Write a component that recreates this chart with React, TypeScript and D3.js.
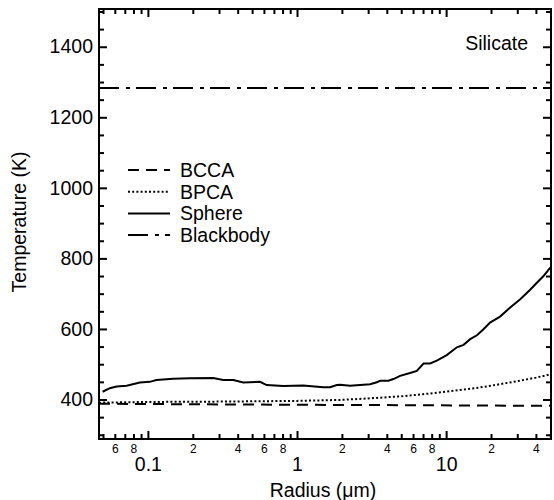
import React, { useEffect, useRef } from 'react';
import * as d3 from 'd3';

// radius in microns, temperature in K
const sphereRadius = [0.0497, 0.0556, 0.0617, 0.072, 0.0884, 0.103, 0.114, 0.148, 0.191, 0.274, 0.32, 0.374, 0.436, 0.565, 0.626, 0.809, 1.1, 1.5, 1.665, 1.85, 1.944, 2.269, 3.09, 3.43, 3.61, 4.1, 4.43, 4.91, 5.73, 6.36, 7.05, 7.81, 8.66, 10.1, 11.8, 13.1, 14.5, 16.1, 17.8, 19.7, 23.0, 26.9, 31.4, 36.6, 40.6, 45.0, 49.9];
const sphereTemp = [422, 432, 437, 439, 448, 450, 455, 459, 460, 461, 455, 455, 448, 450, 441, 438, 440, 435, 435, 441, 442, 439, 443, 449, 453, 453, 458, 467, 475, 481, 502, 502, 510, 526, 548, 555, 571, 582, 599, 618, 635, 661, 684, 711, 731, 750, 774];

const bpcaRadius = [0.047, 0.1, 0.3, 1, 2, 3, 5, 7, 10, 15, 20, 30, 40, 50];
const bpcaTemp = [391, 393, 394, 396, 399, 403, 409, 415, 422, 431, 439, 452, 462, 471];

const bccaRadius = [0.047, 0.3, 1, 5, 50];
const bccaTemp = [388, 386, 385, 384, 382];

const blackbodyRadius = [0.047, 50];
const blackbodyTemp = [1283, 1283];

const legendLabels = ['BCCA', 'BPCA', 'Sphere', 'Blackbody'];
const dashes = ['11,7', '2,2.2', null, '20,7,4,6'];

const xDecades = [0.01, 0.1, 1, 10];
const xMinorSteps = [2, 3, 4, 5, 6, 7, 8, 9];
const xLabeledSteps = [2, 4, 6, 8];
const xMajorTicks = [0.1, 1, 10];
const yMajorTicks = [400, 600, 800, 1000, 1200, 1400];
const yMinorTicks = d3.range(300, 1501, 50);

const W = 554;
const H = 500;
const margin = { top: 9, right: 3, bottom: 61, left: 99 };
const font = '"Liberation Sans", Arial, Helvetica, sans-serif';

const App = () => {
  const ref = useRef<SVGSVGElement>(null);

  useEffect(() => {
    const svg = d3.select(ref.current);
    svg.selectAll('*').remove();

    const w = W - margin.left - margin.right;
    const h = H - margin.top - margin.bottom;

    const x = d3.scaleLog().domain([0.047, 50.5]).range([0, w]);
    const y = d3.scaleLinear().domain([288, 1507]).range([h, 0]);

    const g = svg.append('g').attr('transform', `translate(${margin.left},${margin.top})`);

    const minors: number[] = [];
    const minorLabel = new Map<number, string>();
    xDecades.forEach((d) => {
      xMinorSteps.forEach((k) => {
        const v = +(k * d).toPrecision(3);
        if (v >= x.domain()[0] && v <= x.domain()[1]) {
          minors.push(v);
          if (xLabeledSteps.includes(k)) minorLabel.set(v, String(k));
        }
      });
    });

    const styleAxis = (sel: any, size: number) => {
      sel.select('.domain').remove();
      sel.selectAll('line').attr('stroke', '#000').attr('stroke-width', 2);
      sel.selectAll('text').attr('fill', '#000').attr('font-family', font).attr('font-size', size);
    };

    // bottom
    g.append('g')
      .attr('transform', `translate(0,${h})`)
      .call(d3.axisBottom(x).tickValues(minors).tickSize(-5).tickPadding(5)
        .tickFormat((d: any) => minorLabel.get(d) || ''))
      .call((s) => styleAxis(s, 12));
    g.append('g')
      .attr('transform', `translate(0,${h})`)
      .call(d3.axisBottom(x).tickValues(xMajorTicks).tickSize(-8).tickPadding(18)
        .tickFormat((d: any) => String(d)))
      .call((s) => styleAxis(s, 19.5));

    // top
    g.append('g').call(d3.axisTop(x).tickValues(minors).tickSize(-5).tickFormat(() => ''))
      .call((s) => styleAxis(s, 12));
    g.append('g').call(d3.axisTop(x).tickValues(xMajorTicks).tickSize(-8).tickFormat(() => ''))
      .call((s) => styleAxis(s, 12));

    // left / right
    const yMin = yMinorTicks.filter((v) => !yMajorTicks.includes(v));
    g.append('g').call(d3.axisLeft(y).tickValues(yMin).tickSize(-5).tickFormat(() => ''))
      .call((s) => styleAxis(s, 12));
    g.append('g').call(d3.axisLeft(y).tickValues(yMajorTicks).tickSize(-8).tickPadding(6)
      .tickFormat((d: any) => String(d)))
      .call((s) => styleAxis(s, 19.5));
    g.append('g').attr('transform', `translate(${w},0)`)
      .call(d3.axisRight(y).tickValues(yMin).tickSize(-5).tickFormat(() => ''))
      .call((s) => styleAxis(s, 12));
    g.append('g').attr('transform', `translate(${w},0)`)
      .call(d3.axisRight(y).tickValues(yMajorTicks).tickSize(-8).tickFormat(() => ''))
      .call((s) => styleAxis(s, 12));

    g.append('rect')
      .attr('width', w).attr('height', h)
      .attr('fill', 'none').attr('stroke', '#000').attr('stroke-width', 2);

    // series
    const line = d3.line<[number, number]>().x((d) => x(d[0])).y((d) => y(d[1]));
    const series: [number[], number[]][] = [
      [bccaRadius, bccaTemp],
      [bpcaRadius, bpcaTemp],
      [sphereRadius, sphereTemp],
      [blackbodyRadius, blackbodyTemp],
    ];
    series.forEach(([rs, ts], i) => {
      const pts = rs.map((r, j) => [r, ts[j]] as [number, number]);
      g.append('path')
        .attr('d', line(pts))
        .attr('fill', 'none')
        .attr('stroke', '#000')
        .attr('stroke-width', 2)
        .attr('stroke-dasharray', dashes[i]);
    });

    // legend
    const leg = svg.append('g');
    legendLabels.forEach((label, i) => {
      const ly = 170 + i * 21.7;
      leg.append('line')
        .attr('x1', 128).attr('x2', 170).attr('y1', ly).attr('y2', ly)
        .attr('stroke', '#000').attr('stroke-width', 2)
        .attr('stroke-dasharray', dashes[i]);
      leg.append('text')
        .attr('x', 180).attr('y', ly + 7)
        .attr('font-family', font).attr('font-size', 19.5)
        .text(label);
    });

    svg.append('text')
      .attr('x', 528).attr('y', 50)
      .attr('text-anchor', 'end')
      .attr('font-family', font).attr('font-size', 19.5)
      .text('Silicate');

    svg.append('text')
      .attr('transform', 'translate(26,222) rotate(-90)')
      .attr('text-anchor', 'middle')
      .attr('font-family', font).attr('font-size', 19.5)
      .text('Temperature (K)');

    svg.append('text')
      .attr('x', 323).attr('y', 497)
      .attr('text-anchor', 'middle')
      .attr('font-family', font).attr('font-size', 19.5)
      .text('Radius (μm)');
  }, []);

  return (
    <svg
      ref={ref}
      width={W}
      height={H}
      style={{ position: 'absolute', left: 0, top: 0, background: '#fff' }}
    />
  );
};

export default App;
